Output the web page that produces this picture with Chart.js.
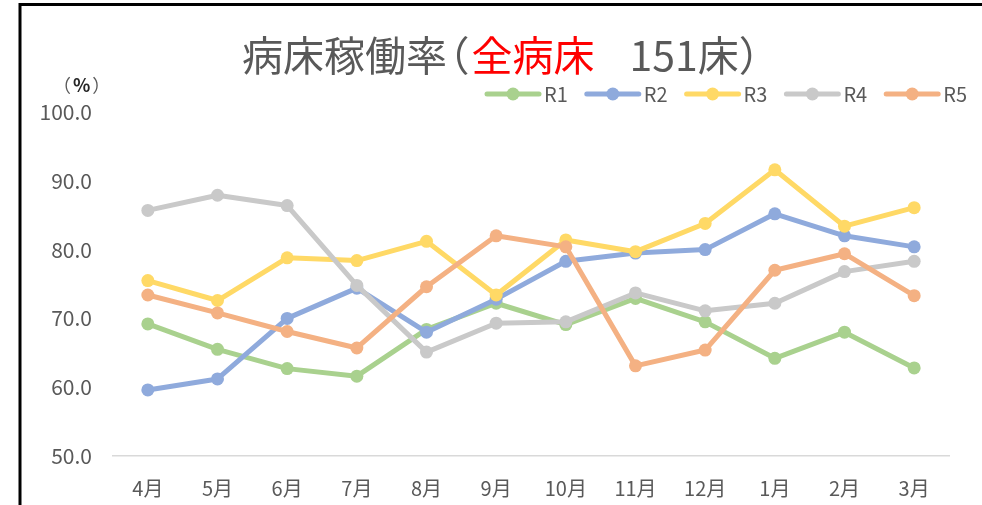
<!DOCTYPE html>
<html>
<head>
<meta charset="utf-8">
<script src="https://cdn.jsdelivr.net/npm/chart.js@4"></script>
<style>
html,body{margin:0;padding:0;background:#fff;}
#wrap{width:982px;height:505px;position:relative;}
</style>
</head>
<body>
<div id="wrap"><canvas id="c" width="982" height="505"></canvas></div>
<script>
const months = ['4月','5月','6月','7月','8月','9月','10月','11月','12月','1月','2月','3月'];
const seriesNames = ['R1','R2','R3','R4','R5'];
const r1 = [69.2, 65.5, 62.7, 61.6, 68.4, 72.2, 69.1, 72.9, 69.5, 64.2, 68.0, 62.8];
const r2 = [59.6, 61.2, 70.0, 74.4, 68.0, 72.8, 78.3, 79.5, 80.0, 85.2, 82.0, 80.4];
const r3 = [75.5, 72.6, 78.8, 78.4, 81.2, 73.4, 81.4, 79.7, 83.8, 91.6, 83.4, 86.1];
const r4 = [85.7, 87.9, 86.4, 74.8, 65.1, 69.3, 69.5, 73.7, 71.1, 72.2, 76.8, 78.3];
const r5 = [73.4, 70.8, 68.1, 65.7, 74.6, 82.0, 80.4, 63.1, 65.4, 77.0, 79.4, 73.3];
const colors = ['#A9D18E','#8FAADC','#FFD966','#C9C9C9','#F4B183'];
const titleParts = [['病床稼働率','#595959'],['（','#595959'],['全病床','#FF0000'],['151床','#595959'],['）','#595959']];
const unitParts = ['（','%','）'];

const FONT = '"Noto Sans CJK JP", "Noto Sans", sans-serif';
const allData = [r1, r2, r3, r4, r5];

const datasets = allData.map((d, i) => ({
  label: seriesNames[i],
  data: d,
  borderColor: colors[i],
  backgroundColor: colors[i],
  pointBackgroundColor: colors[i],
  pointBorderColor: colors[i],
  borderWidth: 5,
  pointRadius: 6.5,
  pointBorderWidth: 0,
  tension: 0,
  borderJoinStyle: 'round',
  borderCapStyle: 'round',
  order: allData.length - 1 - i
}));

// draws text where full-width brackets take only about half an em (proportional style)
function drawRun(ctx, parts, startX, y, size, gapBeforeIdx, gap) {
  let x = startX;
  parts.forEach((p, i) => {
    if (i === gapBeforeIdx) x += gap;
    ctx.fillStyle = p[1];
    const t = p[0];
    if (t === '（') {
      ctx.fillText(t, x - size * 0.45, y);
      x += size * 0.6;
    } else if (t === '）') {
      ctx.fillText(t, x, y);
      x += size * 0.55;
    } else {
      ctx.fillText(t, x, y);
      x += ctx.measureText(t).width;
    }
  });
  return x;
}

const decorPlugin = {
  id: 'decor',
  afterDraw(chart) {
    const ctx = chart.ctx;
    ctx.save();
    // frame
    ctx.strokeStyle = '#000';
    ctx.lineWidth = 3;
    ctx.beginPath();
    ctx.moveTo(20, 505);
    ctx.lineTo(20, 4.5);
    ctx.lineTo(982, 4.5);
    ctx.stroke();

    // title
    const ts = 41;
    ctx.font = ts + 'px ' + FONT;
    ctx.textBaseline = 'middle';
    ctx.textAlign = 'left';
    drawRun(ctx, titleParts, 242, 55, ts, 3, 35);

    // unit label
    ctx.font = '18px ' + FONT;
    ctx.fillStyle = '#595959';
    ctx.fillText(unitParts[0], 61 - 18 * 0.45, 85);
    ctx.font = 'bold 18px ' + FONT;
    ctx.fillStyle = '#262626';
    ctx.fillText(unitParts[1], 73, 85);
    const pw = ctx.measureText(unitParts[1]).width;
    ctx.font = '18px ' + FONT;
    ctx.fillStyle = '#595959';
    ctx.fillText(unitParts[2], 73 + pw + 2, 85);

    // legend
    ctx.font = '20px ' + FONT;
    ctx.textAlign = 'left';
    const lineW = 56, gapT = 3, gapItem = 17, right = 967, cy = 94;
    const items = chart.data.datasets.map(d => ({
      label: d.label, color: d.borderColor,
      w: lineW + gapT + ctx.measureText(d.label).width
    }));
    const tot = items.reduce((a, b) => a + b.w, 0) + gapItem * (items.length - 1);
    let lx = right - tot;
    items.forEach(it => {
      ctx.strokeStyle = it.color;
      ctx.lineWidth = 5;
      ctx.lineCap = 'round';
      ctx.beginPath();
      ctx.moveTo(lx + 2, cy);
      ctx.lineTo(lx + lineW - 2, cy);
      ctx.stroke();
      ctx.fillStyle = it.color;
      ctx.beginPath();
      ctx.arc(lx + lineW / 2, cy, 6.5, 0, Math.PI * 2);
      ctx.fill();
      ctx.fillStyle = '#595959';
      ctx.fillText(it.label, lx + lineW + gapT, cy);
      lx += it.w + gapItem;
    });
    ctx.restore();
  }
};

new Chart(document.getElementById('c'), {
  type: 'line',
  data: { labels: months, datasets },
  options: {
    responsive: false,
    devicePixelRatio: 1,
    animation: false,
    layout: { padding: { top: 112, right: 33, bottom: 0, left: 0 } },
    plugins: { legend: { display: false }, title: { display: false }, tooltip: { enabled: false } },
    scales: {
      x: {
        offset: true,
        grid: { display: false, drawTicks: false, offset: true },
        border: { display: true, color: '#D9D9D9', width: 1.5 },
        ticks: { color: '#595959', font: { size: 20, family: FONT }, padding: 20, maxRotation: 0, autoSkip: false },
        afterFit(s) { s.height = 49; }
      },
      y: {
        min: 50, max: 100,
        grid: { display: false, drawTicks: false },
        border: { display: false },
        ticks: { stepSize: 10, color: '#595959', font: { size: 21, family: FONT }, padding: 21,
          callback: v => Number(v).toFixed(1) },
        afterFit(s) { s.width = 113; }
      }
    }
  },
  plugins: [decorPlugin]
});
</script>
</body>
</html>
